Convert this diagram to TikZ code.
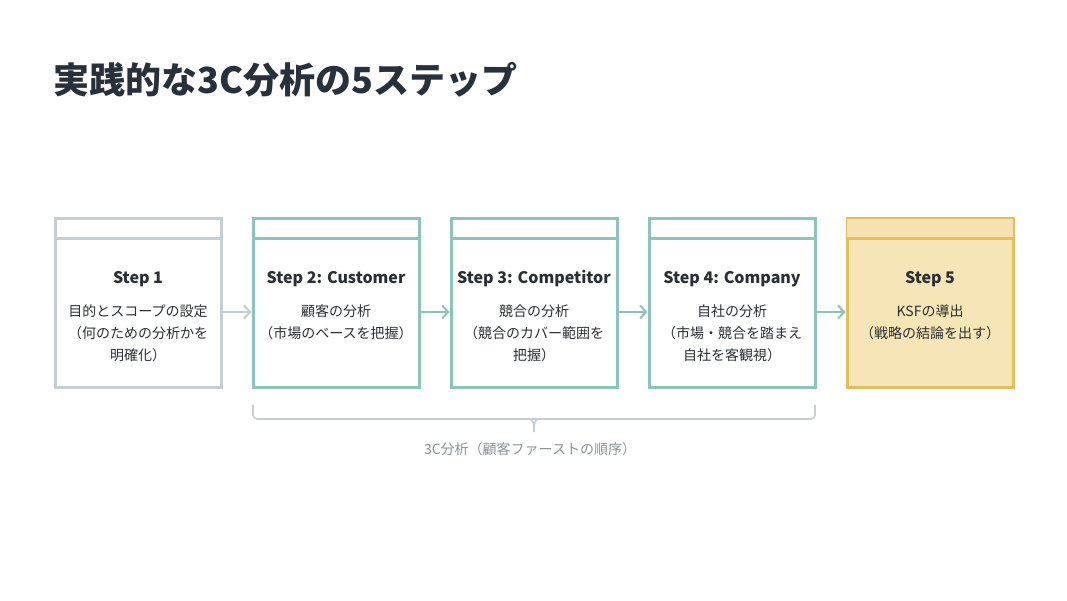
\documentclass[tikz,border=0pt]{standalone}
\usepackage{fontspec}
\setmainfont{Noto Sans CJK JP}
\usetikzlibrary{arrows.meta}
\definecolor{titlec}{HTML}{28313B}
\definecolor{textc}{HTML}{2B2F33}
\definecolor{grayc}{HTML}{C6CED4}
\definecolor{tealc}{HTML}{8CC4BD}
\definecolor{goldc}{HTML}{E3BE5E}
\definecolor{goldfill}{HTML}{F6E5B6}
\definecolor{goldhead}{HTML}{F5E2B0}
\definecolor{labelc}{HTML}{8A9399}
\tikzset{
  stepbox/.style={draw, line width=3pt, minimum width=166pt, minimum height=168pt, inner sep=0pt, fill=white},
  steptitle/.style={font=\bfseries\fontsize{16}{20}\selectfont, text=textc, anchor=base, inner sep=0pt},
  stepbody/.style={font=\fontsize{14}{22}\selectfont, text=textc, anchor=north, align=center, inner sep=0pt},
  flow/.style={line width=2pt, -{Straight Barb[length=6pt,width=13pt,line width=2pt]}},
  bracec/.style={draw=grayc, line width=1.6pt}
}
\begin{document}
\begin{tikzpicture}[x=1pt,y=1pt]
\useasboundingbox[fill=white] (0,0) rectangle (1067,600);
% title
\node[anchor=base west, inner sep=0pt, font=\bfseries\fontsize{36}{40}\selectfont, text=titlec] (title) at (53,506) {実践的な3C分析の5ステップ};
% boxes
\node[stepbox, draw=grayc] (b1) at (138,297) {};
\node[stepbox, draw=tealc] (b2) at (336,297) {};
\node[stepbox, draw=tealc] (b3) at (534,297) {};
\node[stepbox, draw=tealc] (b4) at (732,297) {};
\node[stepbox, draw=goldc, fill=goldfill] (b5) at (930,297) {};
\fill[goldhead] ([shift={(1.5pt,-1.5pt)}]b5.north west) rectangle ([shift={(-1.5pt,-21pt)}]b5.north east);
% header lines
\foreach \b/\c in {b1/grayc,b2/tealc,b3/tealc,b4/tealc,b5/goldc}{
  \draw[\c, line width=3pt] ([yshift=-21pt]\b.north west) -- ([yshift=-21pt]\b.north east);
}
% titles
\node[steptitle] (t1) at (138,316) {Step 1};
\node[steptitle] (t2) at (336,316) {Step 2: Customer};
\node[steptitle] (t3) at (534,316) {Step 3: Competitor};
\node[steptitle] (t4) at (732,316) {Step 4: Company};
\node[steptitle] (t5) at (930,316) {Step 5};
% bodies
\node[stepbody] (d1) at (138,295.5) {目的とスコープの設定\\（何のための分析かを\\明確化）};
\node[stepbody] (d2) at (336,295.5) {顧客の分析\\（市場のベースを把握）};
\node[stepbody] (d3) at (534,295.5) {競合の分析\\（競合のカバー範囲を\\把握）};
\node[stepbody] (d4) at (732,295.5) {自社の分析\\（市場・競合を踏まえ\\自社を客観視）};
\node[stepbody] (d5) at (930,295.5) {KSFの導出\\（戦略の結論を出す）};
% arrows
\draw[flow, grayc] ([yshift=-9pt]b1.east) -- ([yshift=-9pt]b2.west);
\draw[flow, tealc] ([yshift=-9pt]b2.east) -- ([yshift=-9pt]b3.west);
\draw[flow, tealc] ([yshift=-9pt]b3.east) -- ([yshift=-9pt]b4.west);
\draw[flow, tealc] ([yshift=-9pt]b4.east) -- ([yshift=-9pt]b5.west);
% brace
\coordinate (brl) at (253,195);
\coordinate (brr) at (815,195);
\coordinate (brm) at (534,168);
\draw[bracec, rounded corners=4pt] (brl) -- (253,181) -- (815,181) -- (brr);
\draw[bracec] (527,181) .. controls (533,181) and (534,179) .. (brm);
\draw[bracec] (541,181) .. controls (535,181) and (534,179) .. (brm);
\node[anchor=base, inner sep=0pt, font=\fontsize{14}{18}\selectfont, text=labelc] (lbl) at (530,146) {3C分析（顧客ファーストの順序）};
\end{tikzpicture}
\end{document}
